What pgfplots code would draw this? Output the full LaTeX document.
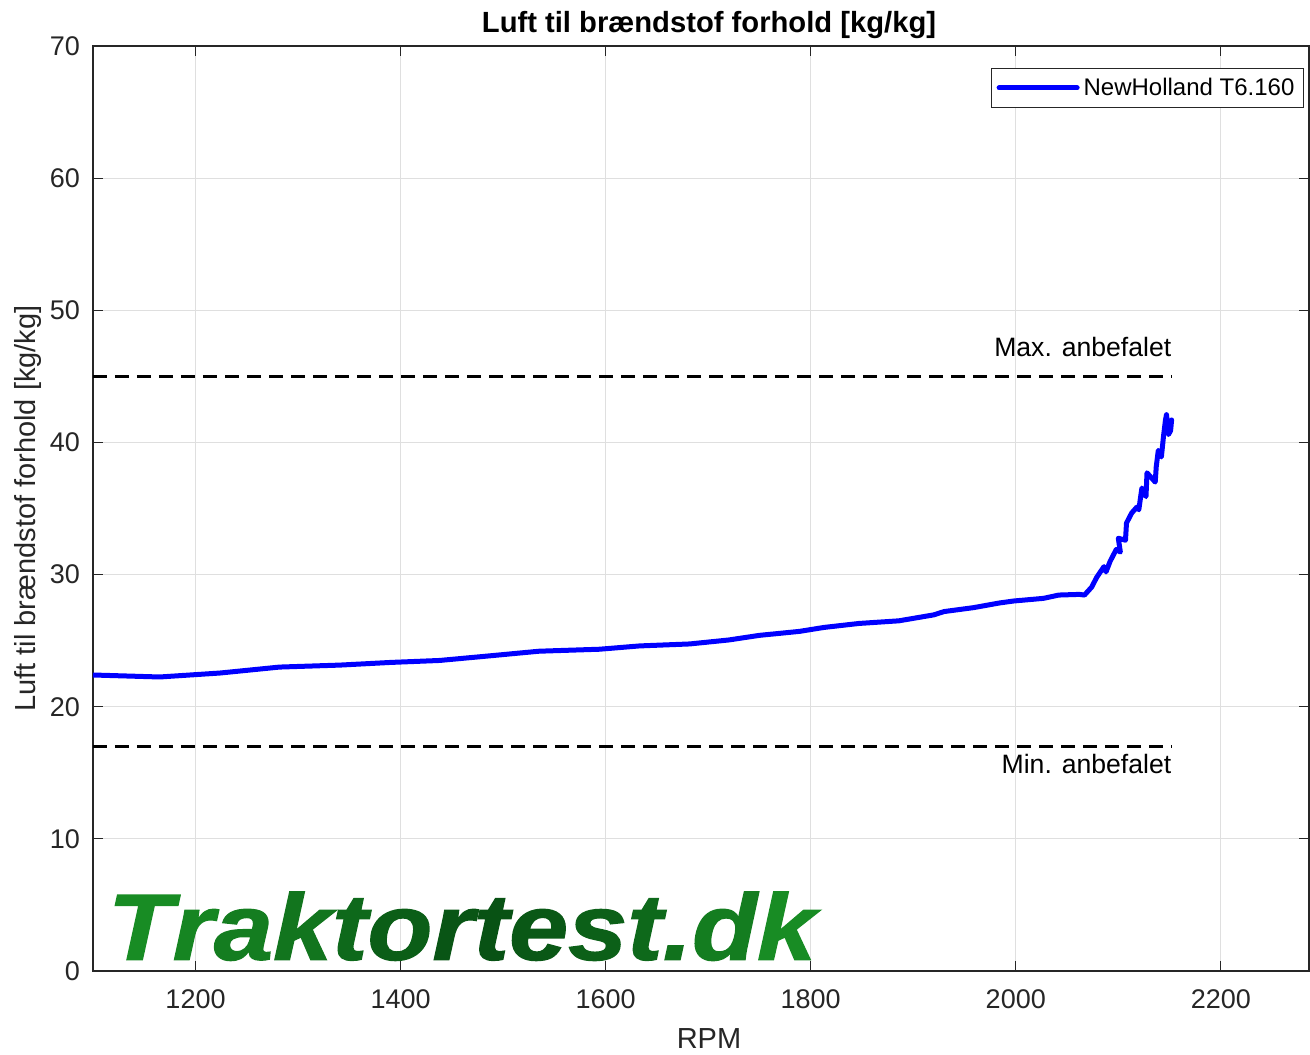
\documentclass[border=0pt]{standalone}
\usepackage{pgfplots}
\pgfplotsset{compat=1.18}
\usepackage{fontspec}
\setmainfont{Liberation Sans}
\newfontfamily\wmfont[BoldItalicFeatures={FakeBold=1.3}]{Liberation Sans}

\definecolor{axgray}{RGB}{38,38,38}
\definecolor{gridgray}{RGB}{223,223,223}
\definecolor{wmA}{RGB}{24,140,36}
\definecolor{wmB}{RGB}{8,82,20}

\pgfplotstableread{
rpm afr
1100 22.4
1165 22.25
1224 22.55
1282 23.0
1341 23.15
1390 23.35
1438 23.5
1487 23.85
1535 24.2
1594 24.35
1633 24.6
1682 24.75
1720 25.05
1750 25.4
1789 25.7
1813 26.0
1847 26.3
1886 26.5
1920 26.95
1930 27.2
1959 27.5
1984 27.85
1998 28.0
2027 28.2
2042 28.45
2062 28.5
2067 28.45
2074 29.05
2079 29.8
2086 30.6
2088 30.2
2092 31.0
2098 31.9
2102 31.7
2100 32.75
2107 32.6
2108 33.9
2113 34.65
2118 35.1
2120 34.9
2123 36.55
2127 35.9
2128 37.7
2136 37.0
2137 38.15
2139 39.4
2142 38.9
2144 40.4
2146 41.7
2147 42.1
2149 40.6
2151 40.9
2152 41.7
}\afrdata

\begin{document}
\begin{tikzpicture}
\path[use as bounding box] (-46.5pt,-41.5pt) rectangle (608.5pt,485.5pt);
\begin{axis}[
    scale only axis,
    width=608pt, height=462.5pt,
    xmin=1100, xmax=2286,
    ymin=0, ymax=70,
    xtick={1200,1400,...,2200},
    ytick={0,10,...,70},
    /pgf/number format/1000 sep={},
    /pgf/number format/assume math mode=true,
    tick align=inside,
    major tick length=5pt,
    tick style={axgray, line width=0.6pt},
    axis line style={axgray, line width=0.6pt},
    grid=major,
    major grid style={gridgray, line width=0.6pt},
    ticklabel style={font=\fontsize{13.5}{16}\selectfont, text=axgray},
    xticklabel style={yshift=-6pt},
    yticklabel style={xshift=-3pt},
    xlabel={RPM},
    ylabel={Luft til brændstof forhold [kg/kg]},
    label style={font=\fontsize{14.5}{17}\selectfont, text=axgray},
    xlabel style={yshift=-3pt, xshift=4pt},
    ylabel style={yshift=-2.5pt},
    title={Luft til brændstof forhold [kg/kg]},
    title style={font=\bfseries\fontsize{14.6}{17}\selectfont, yshift=-6pt, xshift=4pt},
    legend style={at={(rel axis cs:0.9959,0.976)}, anchor=north east,
        draw=axgray, line width=0.6pt, font=\fontsize{12}{14}\selectfont,
        inner sep=2.5pt},
    legend image code/.code={\draw[#1] (0pt,0pt) -- (39pt,0pt);},
]
\addplot[blue, line width=2.5pt, line join=round, line cap=round] table[x=rpm, y=afr] {\afrdata};
\addlegendentry{NewHolland T6.160}
\addplot[black, line width=1.2pt, dash pattern=on 7pt off 4pt, forget plot] coordinates {(1100,45) (2152,45)};
\addplot[black, line width=1.2pt, dash pattern=on 7pt off 4pt, forget plot] coordinates {(1100,17) (2152,17)};
\node[anchor=base east, font=\fontsize{13.3}{16}\selectfont, inner sep=0pt] at (axis cs:2152,46.5) {Max. anbefalet};
\node[anchor=base east, font=\fontsize{13.3}{16}\selectfont, inner sep=0pt] at (axis cs:2152,14.95) {Min. anbefalet};
\node[anchor=base west, inner sep=0pt, xscale=1.13, font=\wmfont\bfseries\itshape\fontsize{47}{50}\selectfont] at (axis cs:1114,0.85)
 {\textcolor{wmA}{T}\textcolor{wmA!88!wmB}{r}\textcolor{wmA!75!wmB}{a}\textcolor{wmA!60!wmB}{k}\textcolor{wmA!40!wmB}{t}\textcolor{wmA!20!wmB}{o}\textcolor{wmA!5!wmB}{r}\textcolor{wmB}{t}\textcolor{wmA!10!wmB}{e}\textcolor{wmA!25!wmB}{s}\textcolor{wmA!40!wmB}{t}\textcolor{wmA!55!wmB}{.}\textcolor{wmA!75!wmB}{d}\textcolor{wmA}{k}};
\end{axis}
\end{tikzpicture}
\end{document}
